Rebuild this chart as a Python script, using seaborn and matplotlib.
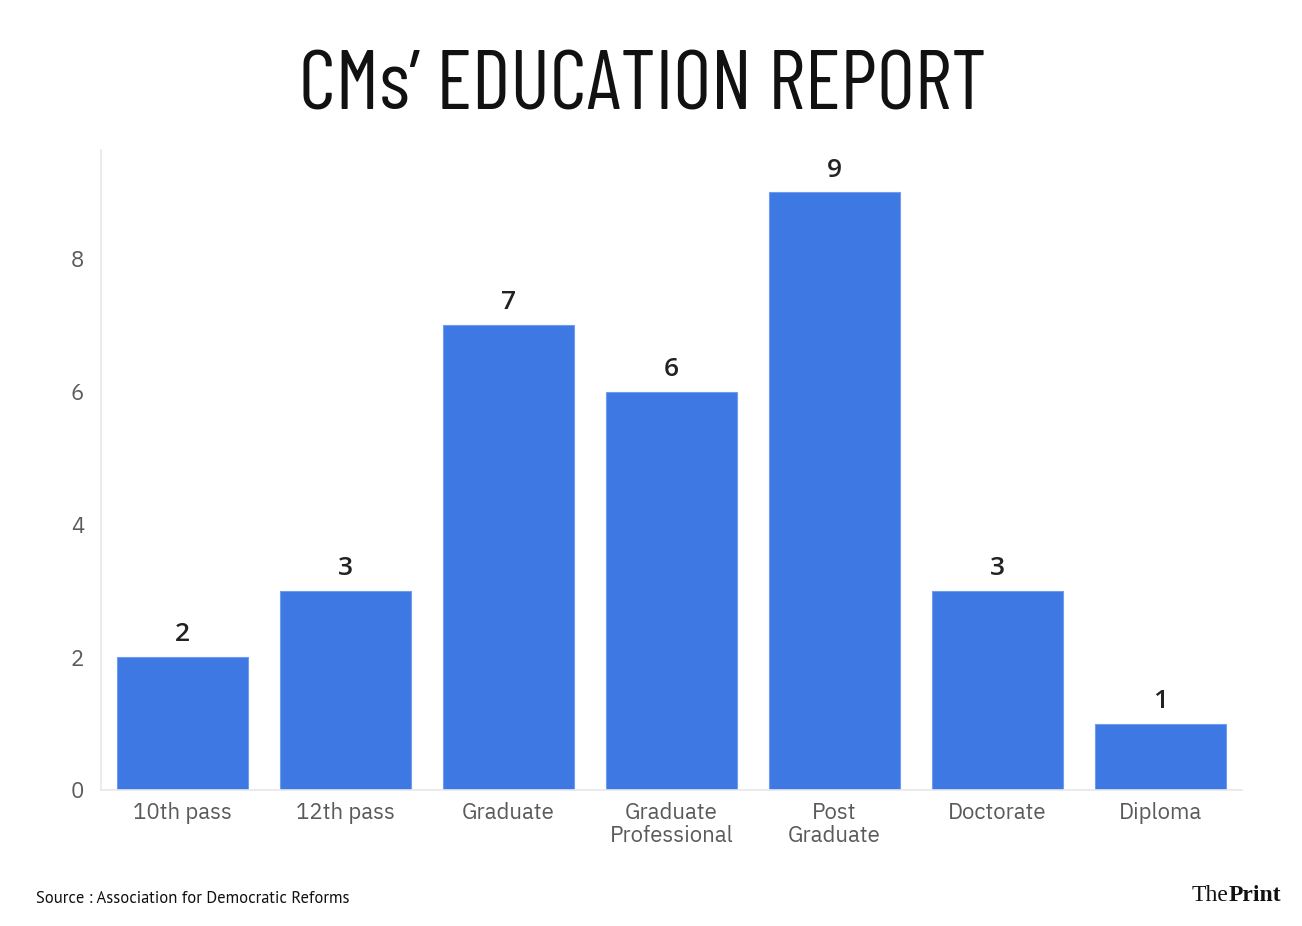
import numpy as np
import pandas as pd
import seaborn as sns
import matplotlib
matplotlib.use("Agg")
from matplotlib import pyplot as plt
from matplotlib import font_manager

# CMs' education report (ADR)
categories = ["10th pass", "12th pass", "Graduate", "Graduate\nProfessional",
              "Post\nGraduate", "Doctorate", "Diploma"]
counts = [2, 3, 7, 6, 9, 3, 1]
yticks = [0, 2, 4, 6, 8]

names = set(f.name for f in font_manager.fontManager.ttflist)


def pick(cands):
    for c in cands:
        if c in names:
            return c
    return "DejaVu Sans"


title_font = pick(["Barlow Condensed", "Saira Extra Condensed", "Oswald",
                   "Antonio", "Pathway Gothic One", "Roboto Condensed",
                   "Liberation Sans Narrow"])
body_font = pick(["IBM Plex Sans", "Open Sans"])
num_font = pick(["IBM Plex Sans SemiBold", "IBM Plex Sans Medium",
                 "IBM Plex Sans SmBld", "Open Sans SemiBold", "Open Sans"])
source_font = pick(["PT Sans", "Open Sans"])
logo_font = pick(["Tinos", "Liberation Serif", "DejaVu Serif"])

sns.set_theme(style="white")
plt.rcParams['font.family'] = [body_font, 'DejaVu Sans']

df = pd.DataFrame({"cat": categories, "n": counts})

fig = plt.figure(figsize=(13.02, 9.26), dpi=100)
ax = fig.add_axes([0.0776, 0.1469, 0.8764, 0.6911])

sns.barplot(data=df, x="cat", y="n", color="#3d78e3", saturation=1,
            width=0.8, edgecolor="#6f9cf0", linewidth=0.8, ax=ax)

for i, v in enumerate(counts):
    ax.text(i, v + 0.15, str(v), ha="center", va="bottom", fontsize=19,
            family=num_font, fontweight="semibold", color="#222222")

ax.set_xlim(-0.5, 6.5)
ax.set_ylim(0, 9.64)
ax.set_yticks(yticks)
ax.set_xlabel("")
ax.set_ylabel("")
ax.tick_params(axis="both", colors="#dddddd", length=6, width=1, labelsize=16,
               labelcolor="#5a5a5a", pad=6)
ax.tick_params(axis="x", pad=3)
for lab in ax.get_xticklabels():
    lab.set_linespacing(1.05)
for s in ["top", "right"]:
    ax.spines[s].set_visible(False)
for s in ["left", "bottom"]:
    ax.spines[s].set_color("#e8e8e8")
    ax.spines[s].set_linewidth(1.2)

title = fig.text(0.4935, 1 - 110 / 926, "CMs\u2019 EDUCATION REPORT",
                 ha="center", va="baseline", fontsize=60, family=title_font,
                 fontweight="normal", color="#111111")
fig.canvas.draw()
w = title.get_window_extent().width
title.set_fontsize(60 * 687.0 / w)

fig.text(0.028, 0.029, "Source : Association for Democratic Reforms",
         ha="left", va="center", fontsize=12, family=source_font,
         color="#111111")

t1 = fig.text(0.9155, 0.033, "The", ha="left", va="center", fontsize=17,
              family=logo_font, color="#111111")
fig.canvas.draw()
bb = t1.get_window_extent()
x2 = bb.x1 / fig.bbox.width
fig.text(x2, 0.033, "Print", ha="left", va="center", fontsize=17,
         family=logo_font, fontweight="bold", color="#111111")

fig.savefig("out.png", dpi=100)
